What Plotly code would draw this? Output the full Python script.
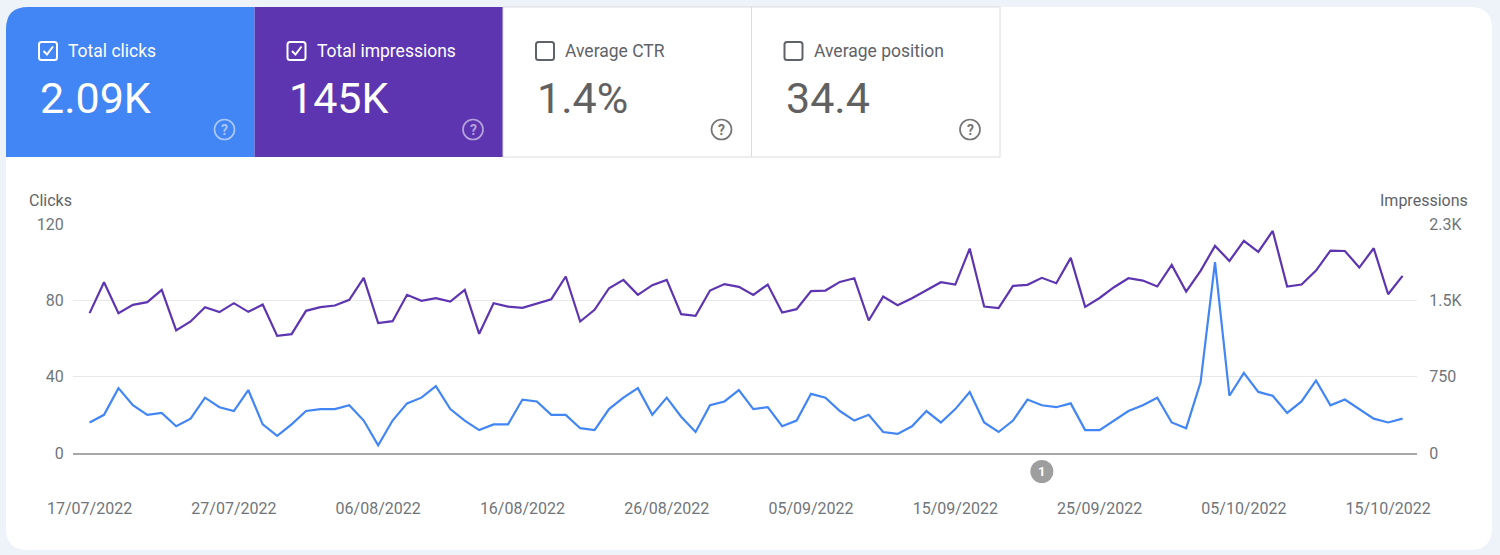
import plotly.graph_objects as go
import pandas as pd

# ---------------- data ----------------
start_date = "2022-07-17"
clicks = [16, 20, 34, 25, 20, 21, 14, 18, 29, 24, 22, 33, 15, 9, 15, 22, 23, 23, 25, 17,
          4, 17, 26, 29, 35, 23, 17, 12, 15, 15, 28, 27, 20, 20, 13, 12, 23, 29, 34, 20,
          29, 19, 11, 25, 27, 33, 23, 24, 14, 17, 31, 29, 22, 17, 20, 11, 10, 14, 22, 16,
          23, 32, 16, 11, 17, 28, 25, 24, 26, 12, 12, 17, 22, 25, 29, 16, 13, 37, 100, 30,
          42, 32, 30, 21, 27, 38, 25, 28, 23, 18, 16, 18]
impressions = [1374, 1678, 1374, 1456, 1482, 1603, 1204, 1292, 1433, 1384, 1472, 1387, 1459, 1151,
               1168, 1397, 1433, 1449, 1505, 1720, 1276, 1295, 1554, 1495, 1521, 1488, 1603, 1171,
               1472, 1439, 1426, 1465, 1511, 1734, 1292, 1407, 1619, 1701, 1554, 1649, 1701, 1364,
               1348, 1596, 1660, 1632, 1554, 1655, 1380, 1413, 1590, 1596, 1681, 1717, 1302, 1537,
               1452, 1521, 1596, 1678, 1655, 2008, 1439, 1423, 1642, 1652, 1721, 1668, 1917, 1436,
               1523, 1629, 1717, 1694, 1636, 1848, 1586, 1789, 2035, 1887, 2084, 1976, 2182, 1636,
               1655, 1792, 1989, 1985, 1822, 2012, 1560, 1740]
dates = pd.date_range(start_date, periods=len(clicks), freq="D")

x_tick_dates = ["2022-07-17", "2022-07-27", "2022-08-06", "2022-08-16", "2022-08-26",
                "2022-09-05", "2022-09-15", "2022-09-25", "2022-10-05", "2022-10-15"]
left_ticks = [0, 40, 80, 120]
right_ticks = [0, 750, 1500, 2250]
right_tick_text = ["0", "750", "1.5K", "2.3K"]

tiles = [
    {"title": "Total clicks", "value": "2.09K", "checked": True, "bg": "#4285f4"},
    {"title": "Total impressions", "value": "145K", "checked": True, "bg": "#5e35b1"},
    {"title": "Average CTR", "value": "1.4%", "checked": False, "bg": "#ffffff"},
    {"title": "Average position", "value": "34.4", "checked": False, "bg": "#ffffff"},
]
annotation_date = "2022-09-21"
annotation_label = "1"

# ---------------- geometry helpers ----------------
W, H = 1500, 555
ML, MR, MT, MB = 73, 83, 224, 102
PW, PH = W - ML - MR, H - MT - MB
PAGE_BG = "#eef2f9"


def px(x):
    return (x - ML) / PW


def py(y):
    return (H - MB - y) / PH


def rpath(x0, y0, x1, y1, r, corners=(True, True, True, True)):
    # corners: tl, tr, br, bl ; pixel coords (y down)
    tl, tr, br, bl = [r if c else 0 for c in corners]
    pts = []
    pts.append(f"M {px(x0 + tl)},{py(y0)}")
    pts.append(f"L {px(x1 - tr)},{py(y0)}")
    if tr:
        pts.append(f"Q {px(x1)},{py(y0)} {px(x1)},{py(y0 + tr)}")
    pts.append(f"L {px(x1)},{py(y1 - br)}")
    if br:
        pts.append(f"Q {px(x1)},{py(y1)} {px(x1 - br)},{py(y1)}")
    pts.append(f"L {px(x0 + bl)},{py(y1)}")
    if bl:
        pts.append(f"Q {px(x0)},{py(y1)} {px(x0)},{py(y1 - bl)}")
    pts.append(f"L {px(x0)},{py(y0 + tl)}")
    if tl:
        pts.append(f"Q {px(x0)},{py(y0)} {px(x0 + tl)},{py(y0)}")
    pts.append("Z")
    return " ".join(pts)


FONT = "Roboto, Arial, sans-serif"
GRAY_TXT = "#5f6368"
TICK_TXT = "#70757a"

fig = go.Figure()

fig.add_trace(go.Scatter(x=dates, y=clicks, mode="lines", name="Clicks",
                         line=dict(color="#4285f4", width=2.2), yaxis="y", hoverinfo="skip"))
fig.add_trace(go.Scatter(x=dates, y=impressions, mode="lines", name="Impressions",
                         line=dict(color="#5e35b1", width=2.2), yaxis="y2", hoverinfo="skip"))

shapes = []
annotations = []

# card background
shapes.append(dict(type="path", xref="paper", yref="paper", layer="below",
                   path=rpath(6, 7, 1492, 550, 22), fillcolor="#ffffff", line=dict(width=0)))

tile_w = 248.5
tile_x0 = 6
for i, t in enumerate(tiles):
    x0 = tile_x0 + i * tile_w
    x1 = x0 + tile_w
    checked = t["checked"]
    if checked:
        shapes.append(dict(type="path", xref="paper", yref="paper", layer="below",
                           path=rpath(x0, 7, x1, 157, 22, (i == 0, False, False, False)),
                           fillcolor=t["bg"], line=dict(width=0)))
    else:
        shapes.append(dict(type="rect", xref="paper", yref="paper", layer="below",
                           x0=px(x0), x1=px(x1), y0=py(157), y1=py(7),
                           fillcolor="#ffffff", line=dict(color="#dadce0", width=1)))
    fg = "#ffffff" if checked else GRAY_TXT
    # checkbox
    cx0 = x0 + 33
    shapes.append(dict(type="path", xref="paper", yref="paper", layer="above",
                       path=rpath(cx0, 42, cx0 + 18, 60, 2.5), fillcolor="rgba(0,0,0,0)",
                       line=dict(color=fg, width=2)))
    if checked:
        shapes.append(dict(type="path", xref="paper", yref="paper", layer="above",
                           path=f"M {px(cx0 + 4.5)},{py(51)} L {px(cx0 + 8)},{py(54.5)} L {px(cx0 + 14)},{py(46.5)}",
                           line=dict(color=fg, width=2)))
    annotations.append(dict(xref="paper", yref="paper", x=px(x0 + 60), y=py(51),
                            xanchor="left", yanchor="middle", showarrow=False,
                            text=t["title"], font=dict(family=FONT, size=17.5, color=fg)))
    annotations.append(dict(xref="paper", yref="paper", x=px(x0 + 32), y=py(98),
                            xanchor="left", yanchor="middle", showarrow=False,
                            text=t["value"], font=dict(family=FONT, size=43,
                                                       color="#ffffff" if checked else "#616161")))
    # help icon
    qx, qy = x0 + 218.5, 129.5
    qcol = "rgba(255,255,255,0.55)" if checked else "#757575"
    shapes.append(dict(type="circle", xref="paper", yref="paper", layer="above",
                       x0=px(qx - 10), x1=px(qx + 10), y0=py(qy + 10), y1=py(qy - 10),
                       line=dict(color=qcol, width=1.7), fillcolor="rgba(0,0,0,0)"))
    annotations.append(dict(xref="paper", yref="paper", x=px(qx), y=py(qy),
                            xanchor="center", yanchor="middle", showarrow=False,
                            text="<b>?</b>", font=dict(family=FONT, size=14, color=qcol)))

# axis titles
annotations.append(dict(xref="paper", yref="paper", x=px(27), y=py(200), xanchor="left",
                        yanchor="middle", showarrow=False, text="Clicks",
                        font=dict(family=FONT, size=16, color=GRAY_TXT)))
annotations.append(dict(xref="paper", yref="paper", x=px(1470), y=py(200), xanchor="right",
                        yanchor="middle", showarrow=False, text="Impressions",
                        font=dict(family=FONT, size=16, color=GRAY_TXT)))

# annotation marker "1"
shapes.append(dict(type="circle", xref="x", yref="paper", xsizemode="pixel", ysizemode="pixel",
                   xanchor=annotation_date, yanchor=py(471.5), x0=-11.5, x1=11.5, y0=-11.5, y1=11.5,
                   fillcolor="#9e9e9e", line=dict(width=0), layer="above"))
annotations.append(dict(xref="x", yref="paper", x=annotation_date, y=py(471.5),
                        xanchor="center", yanchor="middle", showarrow=False,
                        text="<b>" + annotation_label + "</b>",
                        font=dict(family=FONT, size=13, color="#ffffff")))

fig.update_layout(
    width=W, height=H,
    margin=dict(l=ML, r=MR, t=MT, b=MB, pad=0),
    paper_bgcolor=PAGE_BG,
    plot_bgcolor="rgba(0,0,0,0)",
    showlegend=False,
    shapes=shapes,
    annotations=annotations,
    xaxis=dict(
        type="date",
        range=["2022-07-15 20:24", "2022-10-17 00:00"],
        tickvals=x_tick_dates,
        tickformat="%d/%m/%Y",
        ticks="outside", ticklen=40, tickcolor="rgba(0,0,0,0)",
        tickfont=dict(family=FONT, size=16, color=TICK_TXT),
        showgrid=False, zeroline=False,
        showline=True, linecolor="#a8a8a8", linewidth=1.5,
        fixedrange=True,
    ),
    yaxis=dict(
        range=[0, 120], tickvals=left_ticks,
        ticks="outside", ticklen=5, tickcolor="rgba(0,0,0,0)",
        tickfont=dict(family=FONT, size=16, color=TICK_TXT),
        showgrid=True, gridcolor="#e8e8e8", gridwidth=1,
        zeroline=False, showline=False,
    ),
    yaxis2=dict(
        range=[0, 2250], tickvals=right_ticks, ticktext=right_tick_text,
        overlaying="y", side="right",
        ticks="outside", ticklen=8, tickcolor="rgba(0,0,0,0)",
        tickfont=dict(family=FONT, size=16, color=TICK_TXT),
        showgrid=False, zeroline=False, showline=False,
    ),
)

post = ("document.body.style.margin='0';document.body.style.padding='0';"
        "document.body.style.overflow='hidden';document.body.style.background='%s';" % PAGE_BG)
fig.write_html("out.html", post_script=post, config={"displayModeBar": False})
